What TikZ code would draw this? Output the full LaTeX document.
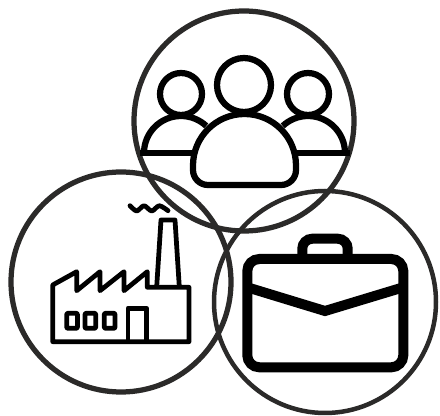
\documentclass[tikz,border=0pt]{standalone}
\definecolor{ringgray}{HTML}{2B2A29}
\tikzset{
    ring/.style={draw=ringgray, line width=0.105cm},
    thinring/.style={draw=ringgray, line width=0.09cm},
    people/.style={draw=black, line width=0.125cm, line join=round},
    factory/.style={draw=black, line width=0.095cm, line join=round},
    brief/.style={draw=black, line width=0.2cm},
}
\begin{document}
\begin{tikzpicture}[x=0.02cm, y=0.02cm]
    \useasboundingbox (0, 0) rectangle (440, 416);

    % three big circles
    \draw[ring] (244, 295) circle (110);
    \draw[ring] (121, 134) circle (110);
    \draw[thinring] (325, 114) circle (111);

    % people
    \draw[people] (244, 331) circle (27);
    \draw[people] (181, 322) circle (21);
    \draw[people] (308, 322) circle (21);
    \draw[people] (144, 263) arc (180:47:37);
    \draw[people] (345, 263) arc (0:133:37);
    \draw[people] (140, 263) -- (193, 263);
    \draw[people] (296, 263) -- (350, 263);
    \draw[people] (193, 250.5) arc (180:0:51.5) -- (296, 246)
        arc (0:-90:15) -- (208, 231) arc (270:180:15) -- cycle;

    % factory
    \draw[factory] (52.7, 74.3) -- (52.7, 131) -- (76.7, 144.3) -- (76.7, 125.3)
        -- (100, 144.3) -- (100, 125.3) -- (124, 144.3) -- (124, 125.3)
        -- (147.3, 144.3) -- (147.3, 128.7) -- (189, 128.7) -- (189, 74.3) -- cycle;
    \draw[factory] (156.7, 129.3) -- (161, 196) -- (175, 196) -- (179.3, 129.3);
    \draw[factory] (128, 74.3) -- (128, 107.7) -- (146.7, 107.7) -- (146.7, 74.3);
    \foreach \xwin in {66.7, 85, 104.3}
        \draw[factory, rounded corners=0.5pt] (\xwin, 87.7) rectangle ++(10.7, 15);
    \draw[factory, line cap=round] plot[smooth] coordinates {(130, 210.3) (136.7, 205)
        (144, 210.3) (151.7, 205) (159.3, 210.3) (168, 205.3)};

    % briefcase
    \draw[brief, rounded corners=0.24cm] (247.3, 48.7) rectangle (403.3, 157);
    \draw[brief, rounded corners=0.2cm] (302.3, 157) -- (302.3, 177.3) -- (347.7, 177.3) -- (347.7, 157);
    \draw[brief] (247.3, 128.7) -- (325, 105) -- (403.3, 128.7);
\end{tikzpicture}
\end{document}
